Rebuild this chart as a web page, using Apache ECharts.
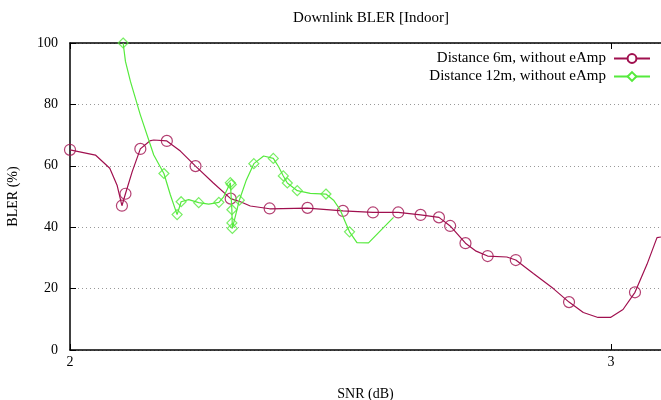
<!DOCTYPE html>
<html>
<head>
<meta charset="utf-8">
<script src="https://cdn.jsdelivr.net/npm/echarts@6/dist/echarts.min.js"></script>
<style>html,body{margin:0;padding:0;background:#fff}#c{width:661px;height:400px}</style>
</head>
<body>
<div id="c"></div>
<script>
// ---- data ----
const title = 'Downlink BLER [Indoor]';
const xName = 'SNR (dB)';
const yName = 'BLER (%)';
const seriesNames = ['Distance 6m, without eAmp', 'Distance 12m, without eAmp'];

// 6 m : measured points
const snr6 = [2.000, 2.096, 2.1025, 2.130, 2.179, 2.232, 2.297, 2.369, 2.439, 2.5045, 2.560, 2.6067, 2.648, 2.682, 2.7027, 2.731, 2.772, 2.824, 2.9224, 3.0443];
const bler6 = [65.2, 47.0, 50.9, 65.5, 68.1, 59.9, 49.3, 46.1, 46.3, 45.3, 44.8, 44.8, 44.0, 43.2, 40.4, 34.8, 30.6, 29.3, 15.6, 18.8];
// 6 m : smoothed curve as drawn (vertices)
const curveSnr6 = [2.000, 2.047, 2.0735, 2.087, 2.096, 2.1025, 2.115, 2.130, 2.1474, 2.1548, 2.179, 2.204, 2.232, 2.265, 2.297, 2.315, 2.3333, 2.369, 2.4386, 2.5045, 2.560, 2.6067, 2.648, 2.682, 2.7027, 2.731, 2.7507, 2.772, 2.8074, 2.824, 2.8565, 2.8934, 2.9224, 2.9488, 2.976, 2.999, 3.0222, 3.0443, 3.0665, 3.085, 3.0923];
const curveBler6 = [65.2, 63.5, 59.2, 53.7, 47.0, 50.9, 58.1, 65.5, 68.1, 68.4, 68.1, 64.8, 59.9, 54.4, 49.3, 48.3, 46.9, 46.0, 46.2, 45.3, 44.8, 44.8, 44.0, 43.2, 40.4, 34.8, 32.2, 30.6, 30.3, 29.3, 24.9, 20.0, 15.6, 12.2, 10.6, 10.6, 13.2, 18.8, 27.9, 36.6, 36.8];

// 12 m : measured points
const snr12 = [2.0982, 2.1736, 2.198, 2.2054, 2.2379, 2.2752, 2.2964, 2.2982, 2.2992, 2.2992, 2.3001, 2.313, 2.3398, 2.3758, 2.3943, 2.4017, 2.4201, 2.4731, 2.5167];
const bler12 = [100, 57.5, 44.1, 48.3, 48.0, 48.1, 54.5, 53.9, 45.7, 41.4, 39.6, 48.8, 60.7, 62.4, 56.7, 54.4, 51.9, 50.8, 38.5];
// 12 m : smoothed curve as drawn (vertices)
const curveSnr12 = [2.0982, 2.1025, 2.1117, 2.130, 2.1548, 2.1736, 2.1856, 2.198, 2.2054, 2.2194, 2.2379, 2.2563, 2.2752, 2.284, 2.2964, 2.2992, 2.3001, 2.313, 2.326, 2.3398, 2.3579, 2.3758, 2.3856, 2.3943, 2.4017, 2.4201, 2.4441, 2.4731, 2.4872, 2.4995, 2.5088, 2.5167, 2.5304, 2.5518, 2.598];
const curveBler12 = [100, 94.0, 87.5, 76.6, 63.5, 57.5, 50.5, 44.1, 48.3, 49.0, 48.0, 47.5, 48.1, 49.9, 54.5, 45.7, 39.6, 48.8, 55.4, 60.7, 63.2, 62.4, 59.7, 56.7, 54.4, 51.9, 51.0, 50.8, 48.8, 45.6, 41.7, 38.5, 35.0, 34.9, 43.2];

const yTicks = [0, 20, 40, 60, 80, 100];

// ---- chart ----
const zip = (a, b) => a.map((v, i) => [v, b[i]]);
const RED = '#a0104f';
const GREEN = '#55ea3c';
const FONT = "'Liberation Serif', 'DejaVu Serif', serif";

const chart = echarts.init(document.getElementById('c'), null, { renderer: 'canvas' });
chart.setOption({
  animation: false,
  backgroundColor: '#fff',
  textStyle: { fontFamily: FONT, color: '#000' },
  title: {
    text: title, left: 366, top: 6, textAlign: 'center',
    textStyle: { fontFamily: FONT, fontSize: 15, fontWeight: 'normal', color: '#000' }
  },
  legend: {
    data: seriesNames,
    orient: 'vertical', align: 'right', right: 5, top: 46,
    itemWidth: 36, itemHeight: 11, itemGap: 3,
    textStyle: { fontFamily: FONT, fontSize: 15, color: '#000', padding: [0, 3, 0, 0] }
  },
  grid: { left: 70, right: 0, top: 43, bottom: 50, containLabel: false, outerBoundsMode: 'none' },
  xAxis: [{
    type: 'value', min: 2, max: 3.0924, interval: 1,
    name: xName, nameLocation: 'middle', nameGap: 37,
    nameTextStyle: { fontFamily: FONT, fontSize: 14, color: '#000' },
    axisLine: { show: true, onZero: false, lineStyle: { color: '#000', width: 1.5 } },
    axisTick: { show: true, inside: true, length: 6, lineStyle: { color: '#000' } },
    axisLabel: { fontFamily: FONT, fontSize: 14, color: '#000', margin: 5, showMaxLabel: false },
    splitLine: { show: false }
  }, {
    type: 'value', min: 2, max: 3.0924, interval: 1, position: 'top',
    axisLine: { show: true, onZero: false, lineStyle: { color: '#000', width: 1.5 } },
    axisTick: { show: true, inside: true, length: 6, lineStyle: { color: '#000' } },
    axisLabel: { show: false }, splitLine: { show: false }
  }],
  yAxis: {
    type: 'value', min: yTicks[0], max: yTicks[yTicks.length - 1], interval: 20,
    name: yName, nameLocation: 'middle', nameGap: 50, nameRotate: 90,
    nameTextStyle: { fontFamily: FONT, fontSize: 14, color: '#000' },
    axisLine: { show: true, onZero: false, lineStyle: { color: '#000', width: 1.5 } },
    axisTick: { show: true, inside: true, length: 6, lineStyle: { color: '#000' } },
    axisLabel: { fontFamily: FONT, fontSize: 14, color: '#000', margin: 12 },
    splitLine: { show: true, lineStyle: { color: '#999', width: 1, type: [1, 3] } }
  },
  series: [{
    name: seriesNames[0], type: 'line', data: zip(curveSnr6, curveBler6),
    symbol: 'emptyCircle', symbolSize: 10, showSymbol: false, smooth: false, clip: true,
    lineStyle: { color: RED, width: 1.2 }, itemStyle: { color: RED, borderWidth: 1 }, z: 2
  }, {
    name: 'pts6', type: 'scatter', data: zip(snr6, bler6),
    symbol: 'circle', symbolSize: 11, clip: true,
    itemStyle: { color: 'rgba(0,0,0,0)', borderColor: RED, borderWidth: 1.2 }, z: 3
  }, {
    name: seriesNames[1], type: 'line', data: zip(curveSnr12, curveBler12),
    symbol: 'emptyDiamond', symbolSize: 10, showSymbol: false, smooth: false, clip: true,
    lineStyle: { color: GREEN, width: 1.2 }, itemStyle: { color: GREEN, borderWidth: 1 }, z: 4
  }, {
    name: 'pts12', type: 'scatter', data: zip(snr12, bler12),
    symbol: 'diamond', symbolSize: 10, clip: false,
    itemStyle: { color: 'rgba(0,0,0,0)', borderColor: GREEN, borderWidth: 1.2 }, z: 5
  }]
});
</script>
</body>
</html>
